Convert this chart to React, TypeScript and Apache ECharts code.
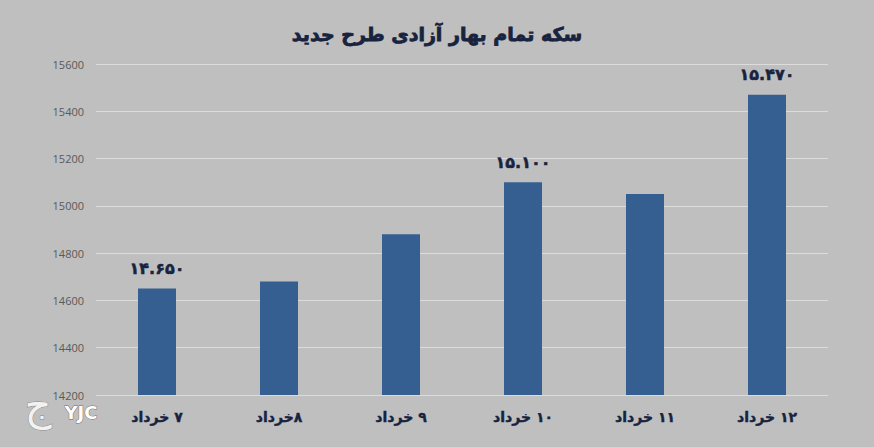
import React, { useEffect, useRef } from "react";
import * as echarts from "echarts";

const RLM = "\u200F";
const categories = ["۷ خرداد", "۸خرداد", "۹ خرداد", "۱۰ خرداد", "۱۱ خرداد", "۱۲ خرداد"];
const values = [14650, 14680, 14880, 15100, 15050, 15470];
const valueLabels = ["۱۴.۶۵۰", "", "", "۱۵.۱۰۰", "", "۱۵.۴۷۰"];
const yTicks = { min: 14200, max: 15600, interval: 200 };
const title = "سکه تمام بهار آزادی طرح جدید";

export default function App() {
  const ref = useRef<HTMLDivElement>(null);
  useEffect(() => {
    document.body.style.margin = "0";
    if (!ref.current) return;
    const chart = echarts.init(ref.current, null, { renderer: "svg" });
    chart.setOption({
      animation: false,
      backgroundColor: "#bfbfbf",
      title: {
        text: title,
        left: "center",
        top: 19,
        textStyle: {
          fontFamily: "DejaVu Sans",
          fontWeight: "bold",
          fontSize: 19,
          color: "#17233f",
          textBorderColor: "#17233f",
          textBorderWidth: 0.8,
        },
      },
      grid: { left: 96, right: 46, top: 64, bottom: 52 },
      xAxis: {
        type: "category",
        data: categories.map((c) => RLM + c),
        axisLine: { show: false },
        axisTick: { show: false },
        axisLabel: {
          margin: 15,
          fontFamily: "DejaVu Sans",
          fontWeight: "bold",
          fontSize: 14,
          color: "#17233f",
          textBorderColor: "#17233f",
          textBorderWidth: 0.4,
        },
      },
      yAxis: {
        type: "value",
        min: yTicks.min,
        max: yTicks.max,
        interval: yTicks.interval,
        axisLine: { show: false },
        axisTick: { show: false },
        splitLine: { lineStyle: { color: "#dcdcdc", width: 1 } },
        axisLabel: {
          margin: 12,
          formatter: (v: number) => String(v),
          fontFamily: "Open Sans",
          fontSize: 11,
          color: "#595959",
        },
      },
      series: [
        {
          type: "bar",
          data: values,
          barWidth: 38,
          itemStyle: { color: "#365f91" },
          label: {
            show: true,
            position: "top",
            distance: 12,
            formatter: (p: any) => valueLabels[p.dataIndex],
            fontFamily: "DejaVu Sans",
            fontWeight: "bold",
            fontSize: 16,
            color: "#17233f",
            textBorderColor: "#17233f",
            textBorderWidth: 0.5,
          },
        },
      ],
      graphic: [
        {
          type: "text",
          left: 24,
          top: 384,
          style: {
            text: "ج",
            fontFamily: "DejaVu Sans",
            fontSize: 42,
            fill: "#f2f2f2",
            stroke: "#8c8c8c",
            lineWidth: 1,
          },
        },
        {
          type: "text",
          left: 64,
          top: 403,
          style: {
            text: "YJC",
            fontFamily: "DejaVu Sans",
            fontWeight: "bold",
            fontSize: 18,
            fill: "#ffffff",
            stroke: "#6e6e6e",
            lineWidth: 1,
          },
        },
      ],
    });
    return () => chart.dispose();
  }, []);
  return <div ref={ref} style={{ width: 874, height: 447 }} />;
}
